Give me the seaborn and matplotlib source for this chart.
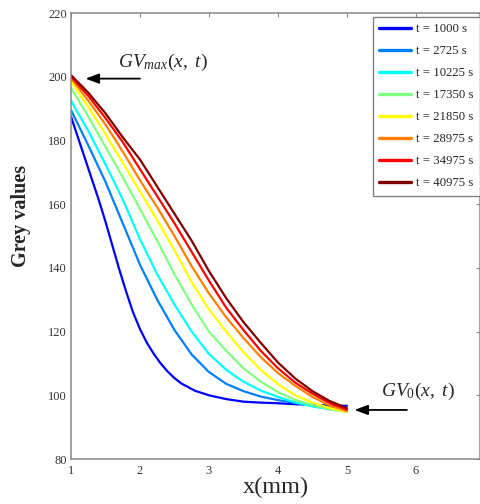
import numpy as np
import pandas as pd
import matplotlib
matplotlib.use("Agg")
import matplotlib.pyplot as plt
import seaborn as sns

# ---- data ----
x_mm = [1.0, 1.25, 1.5, 1.75, 2.0, 2.25, 2.5, 2.75, 3.0, 3.25, 3.5, 3.75, 4.0, 4.25, 4.5, 4.75, 5.0]
x_mm_1000 = [1.0, 1.1, 1.2, 1.3, 1.4, 1.5, 1.6, 1.7, 1.8, 1.9, 2.0, 2.1, 2.2, 2.3, 2.4, 2.5, 2.6, 2.8,
             3.0, 3.25, 3.5, 3.75, 4.0, 4.25, 4.5, 4.75, 5.0]
labels = ["t = 1000 s", "t = 2725 s", "t = 10225 s", "t = 17350 s",
          "t = 21850 s", "t = 28975 s", "t = 34975 s", "t = 40975 s"]
gv_1000  = [187.5, 181.0, 174.5, 168.0, 161.5, 154.5, 147.0, 139.5, 132.5, 126.0, 120.8, 116.5, 113.0,
            110.0, 107.5, 105.4, 103.7, 101.4, 100.0, 98.8, 98.0, 97.7, 97.5, 97.2, 97.0, 96.8, 96.7]
gv_2725  = [189.5, 178.5, 167.0, 154.0, 141.0, 130.0, 120.5, 112.8, 107.3, 103.6, 101.3, 99.6, 98.5, 97.6, 96.8, 96.1, 95.6]
gv_10225 = [192.5, 183.0, 172.5, 161.5, 149.0, 138.0, 128.5, 120.0, 113.0, 108.0, 104.3, 101.5, 99.5, 97.8, 96.5, 95.6, 95.1]
gv_17350 = [196.5, 187.5, 178.0, 168.5, 158.5, 148.5, 138.0, 128.5, 120.0, 114.0, 108.5, 104.3, 101.0, 98.6, 96.9, 95.6, 94.8]
gv_21850 = [198.5, 190.5, 182.0, 173.0, 164.0, 155.0, 145.5, 135.5, 127.0, 120.0, 113.5, 108.0, 103.5, 100.0, 97.7, 96.0, 94.8]
gv_28975 = [199.5, 192.5, 185.0, 176.5, 167.5, 159.0, 150.0, 140.5, 132.0, 124.5, 118.0, 112.0, 107.0, 103.0, 99.5, 96.8, 95.0]
gv_34975 = [200.0, 194.0, 187.0, 179.5, 171.0, 162.5, 154.0, 145.0, 136.0, 127.5, 120.5, 114.0, 108.5, 104.0, 100.5, 97.6, 95.5]
gv_40975 = [200.5, 195.0, 188.5, 181.0, 174.0, 165.5, 157.0, 148.5, 139.0, 130.5, 123.0, 116.5, 110.3, 105.3, 101.3, 98.2, 96.0]
series = [gv_1000, gv_2725, gv_10225, gv_17350, gv_21850, gv_28975, gv_34975, gv_40975]
series_x = [x_mm_1000] + [x_mm] * 7
colors = ["#0000ff", "#0080ff", "#00ffff", "#80ff80", "#ffff00", "#ff8000", "#ff0000", "#800000"]
x_ticks = [1, 2, 3, 4, 5, 6]
y_ticks = [80, 100, 120, 140, 160, 180, 200, 220]

df = pd.concat([pd.DataFrame({"x": xs, "gv": ys, "t": lab})
                for xs, ys, lab in zip(series_x, series, labels)], ignore_index=True)

# ---- style ----
sns.set_style("white")
plt.rcParams["font.family"] = ["Liberation Serif", "DejaVu Serif"]
plt.rcParams["mathtext.fontset"] = "custom"
plt.rcParams["mathtext.rm"] = "Liberation Serif"
plt.rcParams["mathtext.it"] = "Liberation Serif:italic"

W, H = 481, 504
fig = plt.figure(figsize=(W / 100, H / 100), dpi=100)
ax = fig.add_axes([71 / W, 1 - 459 / H, (480 - 71) / W, (459 - 13) / H])

for lab, col in zip(labels, colors):
    sub = df[df["t"] == lab]
    sns.lineplot(data=sub, x="x", y="gv", color=col, linewidth=1.6, ax=ax,
                 label=lab, sort=False, estimator=None)

ax.set_xlim(1, 6.93)
ax.set_ylim(80, 220)
ax.set_xticks(x_ticks)
ax.set_yticks(y_ticks)
ax.tick_params(direction="in", length=3, width=0.8, top=True, right=True,
               labelsize=9, colors="#888888", labelcolor="#333333")
ax.tick_params(axis="y", pad=3)
ax.tick_params(axis="x", pad=4)
for s in ax.spines.values():
    s.set_color("#888888")
    s.set_linewidth(1.1)

ax.set_xlabel("x(mm)", fontsize=17.5, labelpad=0)
ax.set_ylabel("Grey values", fontsize=14.5, fontweight="bold")
ax.yaxis.set_label_coords(-0.097, 0.545)

leg = ax.legend(loc="upper right", bbox_to_anchor=(480 / W, 1 - 17 / H),
                bbox_transform=fig.transFigure, borderaxespad=0,
                fontsize=9.2, handlelength=2.5, handletextpad=0.4,
                labelspacing=0.78, borderpad=0.5, fancybox=False,
                frameon=True, edgecolor="#808080", framealpha=1)
leg.get_frame().set_linewidth(1.0)
for ln in leg.get_lines():
    ln.set_linewidth(2.4)

# annotations
ax.annotate("", xy=(1.17, 199.4), xytext=(2.04, 199.4),
            arrowprops=dict(arrowstyle="-|>,head_length=0.8,head_width=0.3", color="black", lw=1.3))
ax.text(1.68, 204.6, r"$GV_{max}(x,\ t)$", fontsize=14, va="center", ha="left")
ax.annotate("", xy=(5.07, 95.4), xytext=(5.91, 95.4),
            arrowprops=dict(arrowstyle="-|>,head_length=0.8,head_width=0.3", color="black", lw=1.3))
ax.text(5.50, 101.1, r"$GV_0(x,\ t)$", fontsize=14, va="center", ha="left")

fig.savefig("out.png", dpi=100)
